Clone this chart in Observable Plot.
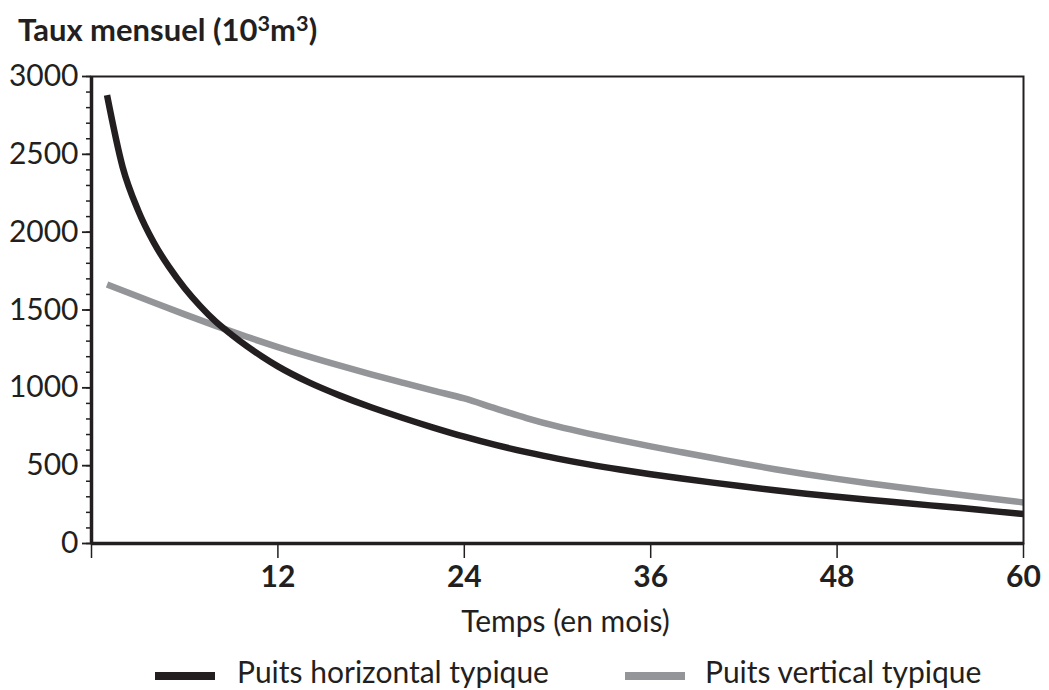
<!DOCTYPE html>
<html>
<head>
<meta charset="utf-8">
<script src="https://cdn.jsdelivr.net/npm/d3@7"></script>
<script src="https://cdn.jsdelivr.net/npm/@observablehq/plot@0.6"></script>
<style>
  html, body { margin: 0; padding: 0; background: #fff; }
  body { width: 1049px; height: 690px; position: relative; overflow: hidden; font-family: Lato, "Open Sans", sans-serif; color: #231f20; }
  #title { position: absolute; left: 18px; top: 14px; font-size: 31px; line-height: 31px; font-weight: bold; white-space: nowrap; }
  #title .sup { font-size: 0.7em; position: relative; top: -0.45em; }
  #chart { position: absolute; left: 0; top: 0; }
  .leg { position: absolute; top: 656px; font-size: 30px; line-height: 30px; white-space: nowrap; }
  .sw { position: absolute; height: 8px; top: 672px; }
</style>
</head>
<body>
<div id="chart"></div>
<div id="title"></div>
<div id="legend"></div>
<script>
// ---- data ----
const seriesNames = ["Puits horizontal typique", "Puits vertical typique"];
const seriesColors = ["#231f20", "#939598"];

const monthsH = [1,2,3,4,5,6,7,8,9,10,11,12,14,16,18,20,22,24,26,28,30,32,34,36,38,40,42,44,46,48,50,52,54,56,58,60];
const valuesH = [2880,2420,2140,1935,1775,1640,1525,1425,1343,1268,1200,1138,1035,950,875,808,745,686,633,587,545,508,475,445,417,391,366,342,320,300,281,263,245,228,208,189];

const monthsV = [1,2,4,6,8,10,12,14,16,18,20,22,24,26,28,30,32,34,36,38,40,42,44,46,48,50,52,54,56,58,60];
const valuesV = [1664,1625,1548,1472,1398,1328,1262,1200,1142,1087,1034,982,932,868,806,752,706,664,624,586,549,512,477,445,415,387,361,336,311,287,264];

const xTicks = [0,12,24,36,48,60];
const yMajorTicks = [0,500,1000,1500,2000,2500,3000];
const yMinorTicks = d3.range(0, 3001, 100);

const titleText = "Taux mensuel (10<span class='sup'>3</span>m<span class='sup'>3</span>)";
const xLabel = "Temps (en mois)";

// ---- build ----
const dataH = monthsH.map((m, i) => ({month: m, value: valuesH[i]}));
const dataV = monthsV.map((m, i) => ({month: m, value: valuesV[i]}));

document.getElementById("title").innerHTML = titleText;

const ink = "#231f20";
const chart = Plot.plot({
  width: 1049,
  height: 650,
  marginLeft: 91,
  marginRight: 26,
  marginTop: 76,
  marginBottom: 107,
  x: {domain: [0, 60]},
  y: {domain: [0, 3000]},
  style: {fontFamily: "Lato, 'Open Sans', sans-serif", color: ink, background: "white", overflow: "visible"},
  marks: [
    Plot.axisY(yMinorTicks, {tickSize: 5, tickFormat: () => "", label: null, strokeWidth: 1.5, stroke: ink}),
    Plot.axisY(yMajorTicks, {tickSize: 9, tickPadding: 4, fontSize: 30, label: null, tickFormat: d => String(d), strokeWidth: 1.8, stroke: ink, fill: ink}),
    Plot.axisX(xTicks, {tickSize: 15, tickPadding: 7, fontSize: 30, fontWeight: "bold", label: null,
      tickFormat: d => d === 0 ? "" : String(d), strokeWidth: 1.5, stroke: ink, fill: ink}),
    Plot.text([xLabel], {frameAnchor: "bottom", dx: 8, dy: 88, lineAnchor: "bottom", fontSize: 30, fill: ink}),
    Plot.line(dataV, {x: "month", y: "value", stroke: seriesColors[1], strokeWidth: 6.5, strokeLinecap: "butt", strokeLinejoin: "round", curve: "monotone-x"}),
    Plot.line(dataH, {x: "month", y: "value", stroke: seriesColors[0], strokeWidth: 6.5, strokeLinecap: "butt", strokeLinejoin: "round", curve: "monotone-x"}),
    Plot.frame({stroke: ink, strokeWidth: 2}),
    Plot.ruleX([0], {stroke: ink, strokeWidth: 3.5}),
    Plot.ruleY([0], {stroke: ink, strokeWidth: 3.5})
  ]
});
document.getElementById("chart").appendChild(chart);

// legend
const legend = document.getElementById("legend");
const legPos = [{sw: 155, tx: 237}, {sw: 625, tx: 705}];
seriesNames.forEach((name, i) => {
  const sw = document.createElement("div");
  sw.className = "sw";
  sw.style.left = legPos[i].sw + "px";
  sw.style.width = "60px";
  sw.style.background = seriesColors[i];
  legend.appendChild(sw);
  const t = document.createElement("div");
  t.className = "leg";
  t.style.left = legPos[i].tx + "px";
  t.textContent = name;
  legend.appendChild(t);
});
</script>
</body>
</html>
